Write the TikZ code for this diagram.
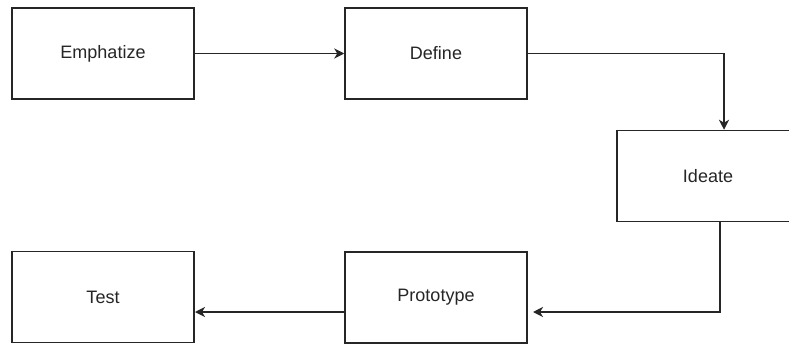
\documentclass[tikz,border=0pt]{standalone}
\usepackage{fontspec}
\setmainfont{Liberation Sans}
\usetikzlibrary{arrows.meta}
\begin{document}
\begin{tikzpicture}[x=1pt,y=-1pt,
  box/.style={draw=black!85,line width=1.5pt,minimum width=182pt,minimum height=91pt,inner sep=0pt,font=\fontsize{18}{22}\selectfont,text=black!85},
  conn/.style={draw=black!85,line width=1.5pt,-{Stealth[length=10pt,width=10pt,inset=3pt]}}]
\clip (0,0) rectangle (789,345);
\fill[white] (0,0) rectangle (789,345);
\node[box] (emp) at (103,53.5) {Emphatize};
\node[box] (def) at (436,53.5) {Define};
\node[box] (ide) at (708,176) {Ideate};
\node[box] (tes) at (103,297) {Test};
\node[box] (pro) at (436,297.5) {Prototype};
\coordinate (c1) at (724,53.5);
\coordinate (c2) at (720,312);
\coordinate (pin) at (533,312);
\coordinate (tin) at (195,312);
\draw[conn] (emp) -- (def);
\draw[conn] (def.east) -- (c1) -- (c1 |- ide.north);
\draw[conn] (c2 |- ide.south) -- (c2) -- (pin);
\draw[conn] (pro.west |- tin) -- (tin);
\end{tikzpicture}
\end{document}
